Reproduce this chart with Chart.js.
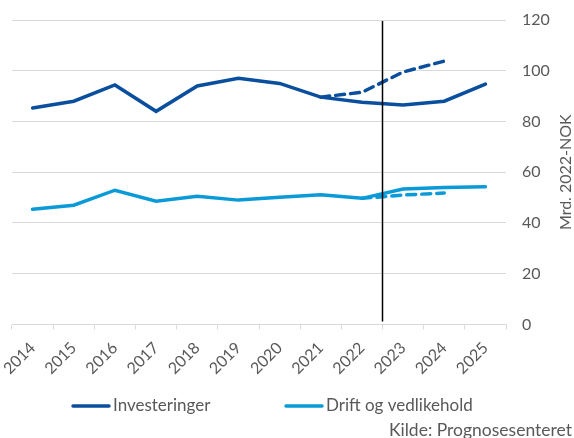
<!DOCTYPE html>
<html>
<head>
<meta charset="utf-8">
<script src="https://cdn.jsdelivr.net/npm/chart.js@4"></script>
<style>
  html, body { margin: 0; padding: 0; background: #fff; }
  #wrap { width: 574px; height: 438px; }
</style>
</head>
<body>
<div id="wrap"><canvas id="chart" width="574" height="438"></canvas></div>
<script>
const years = ['2014', '2015', '2016', '2017', '2018', '2019', '2020', '2021', '2022', '2023', '2024', '2025'];
const investeringer = [85.3, 88, 94.4, 84, 94, 97, 95, 89.6, 87.6, 86.5, 88, 94.7];
const investeringerTidl = [null, null, null, null, null, null, null, 89.6, 91.5, 99.5, 103.8, null];
const drift = [45.4, 47, 52.9, 48.6, 50.5, 49, 50.1, 51.1, 49.7, 53.4, 54, 54.3];
const driftTidl = [null, null, null, null, null, null, null, null, 49.7, 51, 51.8, null];
const yTicks = [0, 20, 40, 60, 80, 100, 120];

const dark = '#0a4f9e';
const light = '#0b9ad8';
const grey = '#595959';
const fontFam = 'Lato, "Open Sans", sans-serif';

// skillelinje mellom 2022 og 2023, y-aksetittel og egen forklaring
const extras = {
    id: 'extras',
    afterDatasetsDraw(chart) {
        const { ctx, chartArea, scales } = chart;
        const x = (scales.x.getPixelForValue(8) + scales.x.getPixelForValue(9)) / 2;
        ctx.save();
        ctx.strokeStyle = '#000';
        ctx.lineWidth = 1.5;
        ctx.beginPath();
        ctx.moveTo(x, chartArea.top + 1);
        ctx.lineTo(x, chartArea.bottom - 3);
        ctx.stroke();
        ctx.restore();
    },
    afterDraw(chart) {
        const { ctx, chartArea } = chart;
        ctx.save();
        ctx.translate(chartArea.right + 60, (chartArea.top + chartArea.bottom) / 2);
        ctx.rotate(-Math.PI / 2);
        ctx.fillStyle = grey;
        ctx.font = '16px ' + fontFam;
        ctx.textAlign = 'center';
        ctx.textBaseline = 'middle';
        ctx.fillText('Mrd. 2022-NOK', 0, 0);
        ctx.restore();

        // forklaring: bare de heltrukne seriene
        const items = [
            { ds: chart.data.datasets[0], x: 73 },
            { ds: chart.data.datasets[1], x: 286 }
        ];
        const y = 406;
        ctx.save();
        ctx.font = '17px ' + fontFam;
        ctx.textBaseline = 'middle';
        ctx.textAlign = 'left';
        items.forEach(it => {
            ctx.strokeStyle = it.ds.borderColor;
            ctx.lineWidth = 3.5;
            ctx.lineCap = 'round';
            ctx.beginPath();
            ctx.moveTo(it.x, y);
            ctx.lineTo(it.x + 36, y);
            ctx.stroke();
            ctx.fillStyle = grey;
            ctx.fillText(it.ds.label, it.x + 40, y);
        });
        ctx.restore();
    }
};

const ctx = document.getElementById('chart').getContext('2d');
new Chart(ctx, {
    type: 'line',
    data: {
        labels: years,
        datasets: [
            { label: 'Investeringer', data: investeringer, borderColor: dark, backgroundColor: dark, borderWidth: 3.5 },
            { label: 'Drift og vedlikehold', data: drift, borderColor: light, backgroundColor: light, borderWidth: 3.5 },
            { label: 'tidl_inv', data: investeringerTidl, borderColor: dark, borderWidth: 3.5, borderDash: [9, 6] },
            { label: 'tidl_drift', data: driftTidl, borderColor: light, borderWidth: 3.5, borderDash: [9, 6] }
        ]
    },
    options: {
        responsive: false,
        animation: false,
        elements: { point: { radius: 0 }, line: { tension: 0, borderCapStyle: 'round' } },
        layout: { padding: { top: 20, right: 2, left: 12, bottom: 0 } },
        plugins: {
            legend: { display: false },
            title: {
                display: true,
                position: 'bottom',
                align: 'end',
                text: 'Kilde: Prognosesenteret',
                color: grey,
                font: { family: fontFam, size: 17.5, weight: 'normal', lineHeight: 0.9 },
                padding: { top: 35, bottom: 0 }
            },
            tooltip: { enabled: false }
        },
        scales: {
            x: {
                offset: true,
                afterFit: axis => { axis.paddingLeft = 0; axis.paddingRight = 0; },
                grid: { offset: true, drawOnChartArea: false, drawTicks: true, tickLength: 5, color: '#d9d9d9' },
                border: { color: '#d9d9d9' },
                ticks: { padding: 9, minRotation: 45, maxRotation: 45, color: grey, font: { family: fontFam, size: 16 } }
            },
            y: {
                position: 'right',
                min: 0,
                max: 120,
                afterBuildTicks: axis => { axis.ticks = yTicks.map(v => ({ value: v })); },
                afterFit: axis => { axis.width = 66; },
                grid: { color: '#d9d9d9', drawTicks: true, tickLength: 13, tickColor: 'rgba(0,0,0,0)' },
                border: { display: false },
                ticks: { padding: 3, color: grey, font: { family: fontFam, size: 16 } }
            }
        }
    },
    plugins: [extras]
});
</script>
</body>
</html>
